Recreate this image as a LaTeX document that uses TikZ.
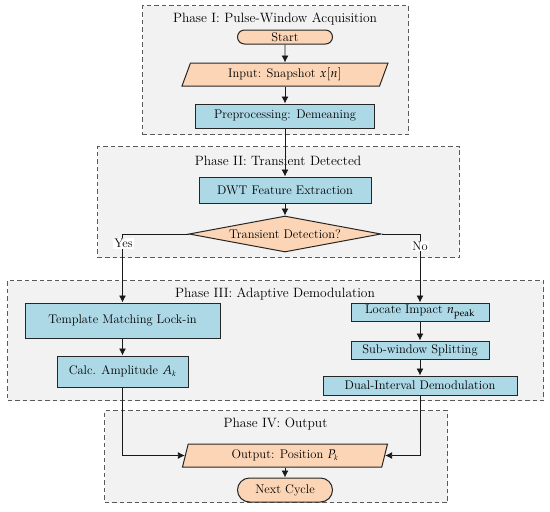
\documentclass[tikz,border=0pt]{standalone}
\usepackage{mathpazo}
\usetikzlibrary{shapes.geometric,arrows.meta}
\definecolor{procblue}{HTML}{ADD8E6}
\definecolor{termpeach}{HTML}{FBD5B5}
\definecolor{phasefill}{HTML}{F2F2F2}
\definecolor{phaseline}{HTML}{5A5A5A}
\begin{document}
\begin{tikzpicture}[x=1pt,y=-1pt,
  font=\fontsize{12.5}{14}\selectfont,
  phasebox/.style={draw=phaseline, dash pattern=on 4.5pt off 3pt, fill=phasefill, line width=1pt, anchor=north west, inner sep=0pt},
  phasetitle/.style={inner sep=0pt, font=\fontsize{13.5}{15}\selectfont},
  proc/.style={draw=black!85, fill=procblue, line width=1pt, inner sep=0pt},
  term/.style={draw=black!85, fill=termpeach, line width=1pt, inner sep=0pt},
  pill/.style={term, rounded corners=#1},
  iobox/.style={term, trapezium, trapezium stretches body, trapezium left angle=#1, trapezium right angle=180-#1},
  decision/.style={term, diamond, aspect=5.3},
  arr/.style={draw=black!90, line width=0.9pt, -{Latex[length=7pt,width=7pt]}},
  branchlabel/.style={fill=white, inner sep=1pt}
]
\useasboundingbox (0,0) rectangle (550,512);

% phase backgrounds
\node[phasebox, minimum width=266pt, minimum height=129pt] (p1) at (142,5) {};
\node[phasebox, minimum width=362pt, minimum height=111pt] (p2) at (97,146) {};
\node[phasebox, minimum width=536pt, minimum height=120pt] (p3) at (7,280) {};
\node[phasebox, minimum width=343pt, minimum height=92pt] (p4) at (104,410) {};

\node[phasetitle] (t1) at (275,19) {Phase I: Pulse-Window Acquisition};
\node[phasetitle] (t2) at (278,161) {Phase II: Transient Detected};
\node[phasetitle] (t3) at (275,294) {Phase III: Adaptive Demodulation};
\node[phasetitle] (t4) at (275.5,424) {Phase IV: Output};

% nodes
\node[pill=7pt, minimum width=95pt, minimum height=14pt] (start) at (285,37) {Start};
\node[iobox=57, minimum width=206pt, minimum height=23pt] (input) at (285,74.5) {Input: Snapshot $x[n]$};
\node[proc, minimum width=179pt, minimum height=24pt] (prep) at (285,116) {Preprocessing: Demeaning};
\node[proc, minimum width=172pt, minimum height=26pt] (dwt) at (285,190) {DWT Feature Extraction};
\node[decision, minimum width=192pt, minimum height=36pt] (dec) at (285,234) {Transient Detection?};
\node[proc, minimum width=195pt, minimum height=35pt] (tmpl) at (122.5,320.5) {Template Matching Lock-in};
\node[proc, minimum width=131pt, minimum height=31pt] (calc) at (122.5,371.5) {Calc. Amplitude $A_{\scriptscriptstyle k}$};
\node[proc, minimum width=138pt, minimum height=18pt] (loc) at (420,312) {Locate Impact $n_{\mathrm{peak}}$};
\node[proc, minimum width=138pt, minimum height=18pt] (sub) at (420,350) {Sub-window Splitting};
\node[proc, minimum width=194pt, minimum height=19pt] (dual) at (420,385.5) {Dual-Interval Demodulation};
\node[iobox=63, minimum width=205pt, minimum height=23pt] (out) at (285,455.5) {Output: Position $P_{\scriptscriptstyle k}$};
\node[pill=12pt, minimum width=95pt, minimum height=24pt] (next) at (285,490) {Next Cycle};

% connectors
\draw[arr] (start) -- (input);
\draw[arr] (input) -- (prep);
\draw[arr] (prep) -- (dwt);
\draw[arr] (dwt) -- (dec);
\draw[arr] (dec.west) -| (tmpl.north);
\draw[arr] (dec.east) -| (loc.north);
\draw[arr] (tmpl) -- (calc);
\draw[arr] (loc) -- (sub);
\draw[arr] (sub) -- (dual);
\draw[arr] (calc.south) |- (out.west);
\draw[arr] (dual.south) |- (out.east);
\draw[arr] (out) -- (next);

\node[branchlabel] (yes) at (123.5,243.5) {Yes};
\node[branchlabel] (no) at (420,246) {No};
\end{tikzpicture}
\end{document}
